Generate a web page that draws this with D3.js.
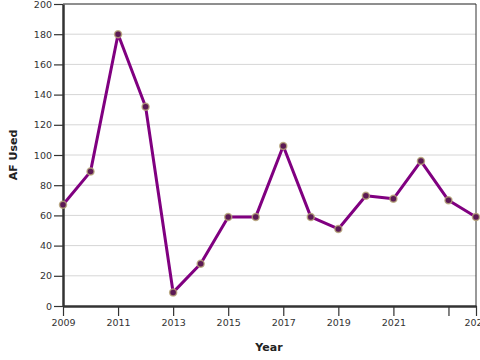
<!DOCTYPE html>
<html><head><meta charset="utf-8">
<script src="https://cdn.jsdelivr.net/npm/d3@7"></script>
<style>body{margin:0;background:#fff}svg{display:block;font-family:"DejaVu Sans",sans-serif}</style>
</head><body><svg id="c" width="480" height="360"></svg>
<script>
const years = [2009,2010,2011,2012,2013,2014,2015,2016,2017,2018,2019,2020,2021,2022,2023,2024];
const afUsed = [67,89,180,132,9,28,59,59,106,59,51,73,71,96,70,59];
const xTickValues = [2009,2011,2013,2015,2017,2019,2021,2023,2024];
const xTickLabels = ["2009","2011","2013","2015","2017","2019","2021","","2024"];
const yTickValues = [0,20,40,60,80,100,120,140,160,180,200];

const svg = d3.select("#c");
const L=63, R=476, T=4, B=306;
const x = d3.scaleLinear().domain([2009,2024]).range([L,R]);
const y = d3.scaleLinear().domain([0,200]).range([B,T]);

// grid
svg.append("g").selectAll("line").data(yTickValues.slice(1)).join("line")
  .attr("x1",L).attr("x2",R).attr("y1",d=>y(d)).attr("y2",d=>y(d))
  .attr("stroke","#d6d6d6").attr("stroke-width",1);

// frame top/right
svg.append("line").attr("x1",L).attr("x2",R).attr("y1",T).attr("y2",T).attr("stroke","#333").attr("stroke-width",1);
svg.append("line").attr("x1",R).attr("x2",R).attr("y1",T).attr("y2",B).attr("stroke","#333").attr("stroke-width",1);

const xAxis = svg.append("g").attr("transform",`translate(0,${B})`)
  .call(d3.axisBottom(x).tickValues(xTickValues).tickFormat((d,i)=>xTickLabels[i]).tickSize(10).tickSizeOuter(0).tickPadding(3));
const yAxis = svg.append("g").attr("transform",`translate(${L},0)`)
  .call(d3.axisLeft(y).tickValues(yTickValues).tickSize(9).tickSizeOuter(0).tickPadding(2));
[xAxis,yAxis].forEach(g=>{
  g.select(".domain").attr("stroke","#333").attr("stroke-width",2.5);
  g.selectAll(".tick line").attr("stroke","#333").attr("stroke-width",1.2);
  g.selectAll(".tick text").attr("fill","#333").style("font-size","9.5px").style("font-family","DejaVu Sans");
});

svg.append("text").attr("x",269).attr("y",351).attr("text-anchor","middle")
  .style("font-size","11px").style("font-weight","bold").attr("fill","#222").text("Year");
svg.append("text").attr("transform",`translate(17,${(T+B)/2}) rotate(-90)`).attr("text-anchor","middle")
  .style("font-size","11px").style("font-weight","bold").attr("fill","#222").text("AF Used");

const line = d3.line().x((d,i)=>x(years[i])).y(d=>y(d));
svg.append("path").datum(afUsed).attr("d",line).attr("fill","none")
  .attr("stroke","#800080").attr("stroke-width",3).attr("stroke-linejoin","round");
svg.append("g").selectAll("circle").data(afUsed).join("circle")
  .attr("cx",(d,i)=>x(years[i])).attr("cy",d=>y(d)).attr("r",3.5)
  .attr("fill","#5c1a55").attr("stroke","#b8a878").attr("stroke-opacity",0.8).attr("stroke-width",1.5);
</script></body></html>
